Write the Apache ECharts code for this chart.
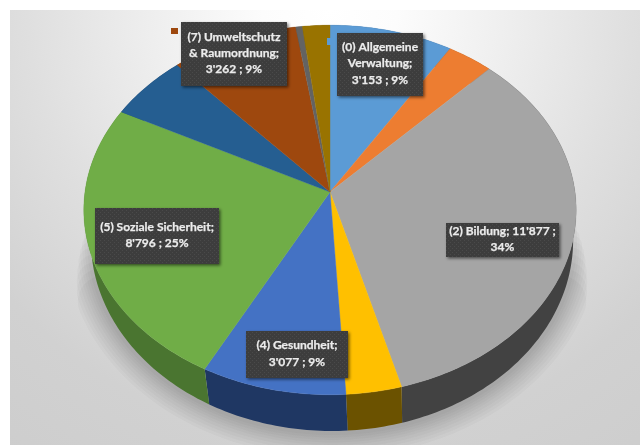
<!DOCTYPE html>
<html>
<head>
<meta charset="utf-8">
<style>html,body{margin:0;padding:0;background:#fff}#c{width:640px;height:445px}</style>
<script src="https://cdn.jsdelivr.net/npm/echarts@6/dist/echarts.min.js"></script>
</head>
<body>
<div id="c"></div>
<script>
// Data (values of unlabelled slices are estimates)
const categories = ['(0)','(1)','(2)','(3)','(4)','(5)','(6)','(7)','(8)','(9)'];
const values = [3153, 1180, 11877, 1180, 3077, 8796, 2050, 3262, 170, 700];
const faceColors = ['#5B9BD5','#ED7D31','#A5A5A5','#FFC000','#4472C4','#70AD47','#255E91','#9E480E','#636363','#997300'];
const sideColors = ['#2f5a80','#8a4a1c','#424242','#6b5200','#1f3763','#4a7530','#16385a','#5e2b08','#3b3b3b','#5b4500'];
const labelIndex = [0, 2, 4, 5, 7];
const labelTexts = ['(0) Allgemeine\nVerwaltung;\n3\'153 ; 9%', '(2) Bildung; 11\'877 ;\n34%', '(4) Gesundheit;\n3\'077 ; 9%', '(5) Soziale Sicherheit;\n8\'796 ; 25%', '(7) Umweltschutz\n& Raumordnung;\n3\'262 ; 9%'];

// Layout of the tilted pie (perspective projection of a circle)
const K = 0.0973;
const TOP = {cx: 330, cy: 192, rx: 245, ry: 183};
const BASE = {cx: 332, cy: 221.4, rx: 240, ry: 189.2};
const labelBoxes = [[337,33,86,63],[446,223,113,34],[246,331,102,47],[95,208,124,56],[181,22,106,64]];
const keyMarks = [[327,38,5,7],null,null,null,[171,28,7,6]];
const shadowWidths = [52, 46, 40, 34, 28, 23, 18, 13, 8];

const total = values.reduce((a, b) => a + b, 0);
const starts = [];
values.reduce((acc, v, i) => { starts[i] = acc; return acc + v; }, 0);

function project(P, deg) {
  const t = deg * Math.PI / 180, X = Math.sin(t), Y = -Math.cos(t), w = 1 - K * Y;
  return [P.cx + P.rx * X / w, P.cy + P.ry * Y / w];
}
function arc(P, a0, a1) {
  const pts = [], n = Math.max(2, Math.ceil((a1 - a0) / 1));
  for (let i = 0; i <= n; i++) pts.push(project(P, a0 + (a1 - a0) * i / n));
  return pts;
}
function sliceAngles(api) {
  return [api.value(1) / total * 360, (api.value(1) + api.value(2)) / total * 360];
}
const seriesData = categories.map((c, i) => [i, starts[i], values[i]]);

// dotted texture of the label boxes
const tex = document.createElement('canvas');
tex.width = tex.height = 4;
(function () {
  const g = tex.getContext('2d');
  g.fillStyle = '#3d3d3d'; g.fillRect(0, 0, 4, 4);
  g.fillStyle = '#4a4a4a'; g.fillRect(0, 0, 1, 1); g.fillRect(2, 2, 1, 1);
})();

const chart = echarts.init(document.getElementById('c'), null, {renderer: 'canvas'});
chart.setOption({
  animation: false,
  backgroundColor: '#fff',
  graphic: {elements: [
    {type: 'rect', z: -10, silent: true, shape: {x: 10, y: 10, width: 630, height: 435},
     style: {fill: new echarts.graphic.RadialGradient(330, 10, 560, [
       {offset: 0, color: '#ffffff'}, {offset: 0.12, color: '#fcfcfc'}, {offset: 0.54, color: '#dfdfdf'},
       {offset: 0.77, color: '#d1d1d1'}, {offset: 1, color: '#cdcdcd'}], true)}}
  ]},
  series: [
    // soft drop shadow under the lower half of the pie: stacked translucent strokes along the base,
    // the wider strokes starting lower so the shadow tapers towards the sides
    {type: 'custom', coordinateSystem: 'none', z: 1, silent: true, data: shadowWidths.map((w, i) => [i, w]),
     renderItem(p, api) {
       const w = api.value(1), a = 88 + w * 0.5;
       return {type: 'polyline', shape: {points: arc(BASE, a, 360 - a)},
         style: {fill: 'none', stroke: 'rgba(0,0,0,0.024)', lineWidth: w, lineCap: 'round', lineJoin: 'round'}};
     }},
    {type: 'custom', coordinateSystem: 'none', z: 2, silent: true, data: seriesData,
     renderItem(p, api) {
       const [a0, a1] = sliceAngles(api);
       const pts = arc(TOP, a0, a1).concat(arc(BASE, a0, a1).reverse());
       return {type: 'polygon', shape: {points: pts}, style: {fill: sideColors[api.value(0)]}};
     }},
    {type: 'custom', coordinateSystem: 'none', z: 3, silent: true, data: seriesData,
     renderItem(p, api) {
       const [a0, a1] = sliceAngles(api);
       const c = faceColors[api.value(0)];
       const pts = [[TOP.cx, TOP.cy]].concat(arc(TOP, a0, a1));
       return {type: 'polygon', shape: {points: pts}, style: {fill: c, stroke: c, lineWidth: 0.4}};
     }},
    {type: 'custom', coordinateSystem: 'none', z: 4, silent: true,
     data: labelIndex.map((c, i) => [i, c]),
     renderItem(p, api) {
       const i = api.value(0), b = labelBoxes[i], k = keyMarks[i], kids = [];
       if (k) kids.push({type: 'rect', shape: {x: k[0], y: k[1], width: k[2], height: k[3]},
         style: {fill: faceColors[api.value(1)]}});
       kids.push({type: 'rect', shape: {x: b[0], y: b[1], width: b[2], height: b[3]},
         style: {fill: {image: tex, repeat: 'repeat'}, shadowBlur: 3, shadowColor: 'rgba(0,0,0,0.55)', shadowOffsetX: 1.5, shadowOffsetY: 1.5}});
       kids.push({type: 'text', style: {x: b[0] + b[2] / 2, y: b[1] + b[3] / 2 - 1, text: labelTexts[i],
         align: 'center', verticalAlign: 'middle', fill: '#ececec', stroke: '#ececec', lineWidth: 0.25, font: 'bold 12px Lato', lineHeight: 16.3}});
       return {type: 'group', children: kids};
     }}
  ]
});
</script>
</body>
</html>
